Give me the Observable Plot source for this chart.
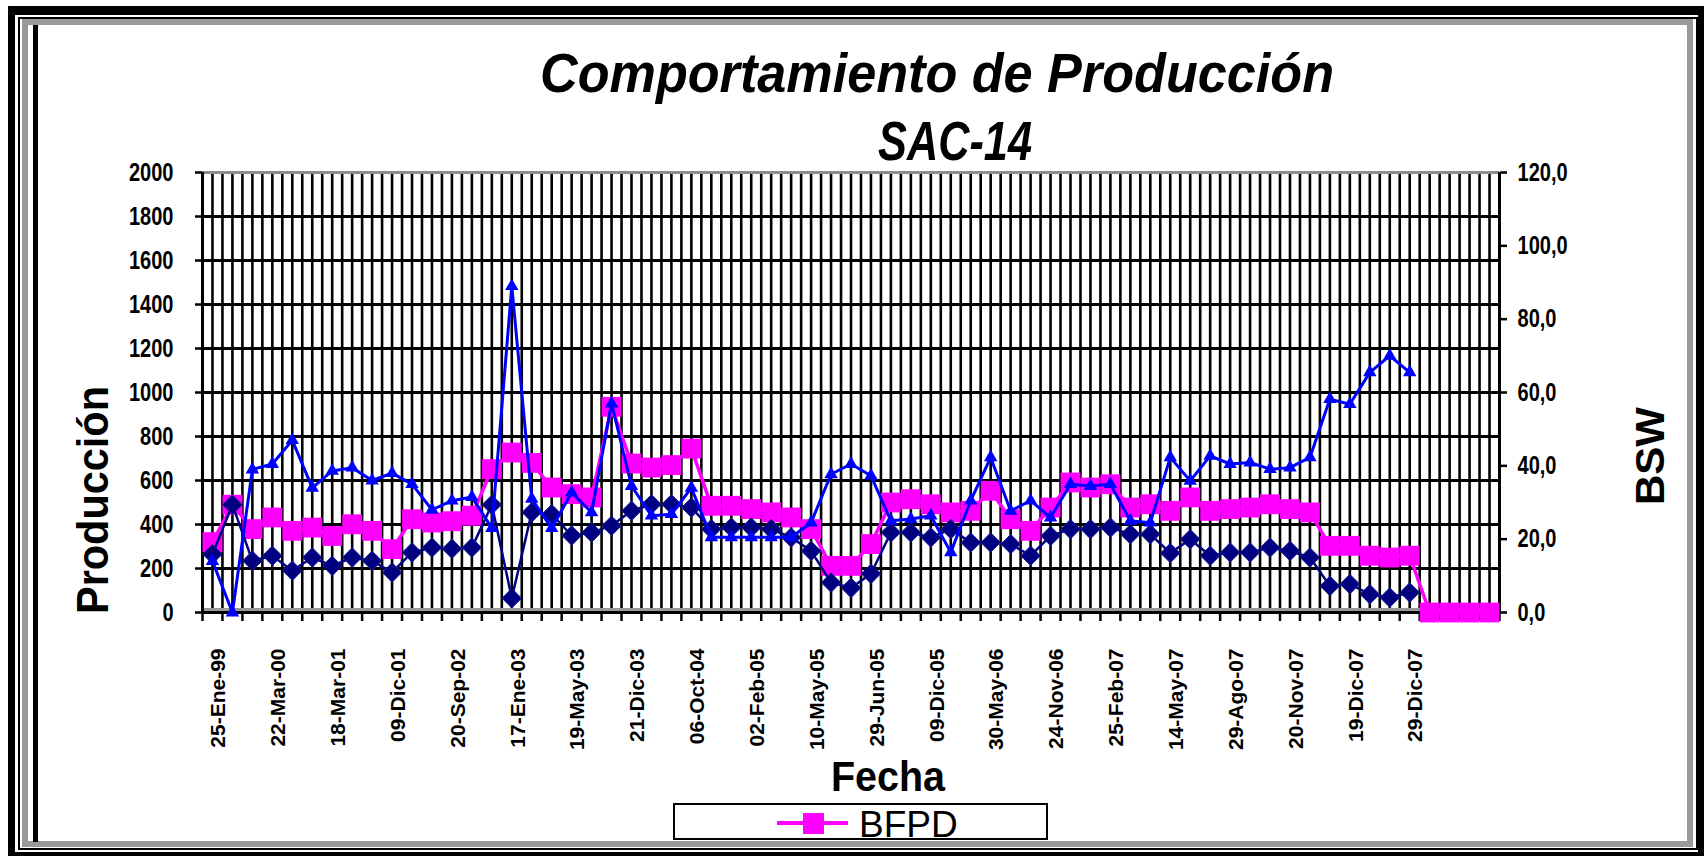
<!DOCTYPE html>
<html><head><meta charset="utf-8">
<script src="https://cdn.jsdelivr.net/npm/d3@7"></script>
<script src="https://cdn.jsdelivr.net/npm/@observablehq/plot@0.6"></script>
<style>
html,body{margin:0;padding:0;background:#fff;}
#page{position:relative;width:1704px;height:856px;overflow:hidden;background:#fff;font-family:"Liberation Sans",Arial,sans-serif;}
.abs{position:absolute;box-sizing:border-box;}
</style></head><body>
<div id="page">
  <div class="abs" style="left:8px;top:6px;width:1696px;height:850px;border-style:solid;border-color:#000;border-width:9px 6px 4px 7px;"></div>
  <div class="abs" style="left:18px;top:17px;width:1680px;height:833px;border:2px solid #000;"></div>
  <div class="abs" style="left:22px;top:19px;width:1671px;height:828px;border:6px solid #999;"></div>
  <div class="abs" style="left:33px;top:25px;width:5px;height:817px;background:#000;"></div>
  <div id="chart" class="abs" style="left:0;top:0;"></div>
  <svg id="overlay" class="abs" style="left:0;top:0;" width="1704" height="856" font-family="Liberation Sans, Arial, sans-serif">
    <text x="937" y="92" text-anchor="middle" font-size="56" font-weight="bold" font-style="italic" textLength="794" lengthAdjust="spacingAndGlyphs">Comportamiento de Producción</text>
    <text x="955" y="160" text-anchor="middle" font-size="56" font-weight="bold" font-style="italic" textLength="154" lengthAdjust="spacingAndGlyphs">SAC-14</text>
    <text transform="translate(108,500) rotate(-90)" text-anchor="middle" font-size="45" font-weight="bold" textLength="228" lengthAdjust="spacingAndGlyphs">Producción</text>
    <text transform="translate(1664,456) rotate(-90)" text-anchor="middle" font-size="40" font-weight="bold" textLength="98" lengthAdjust="spacingAndGlyphs">BSW</text>
    <text x="888" y="791" text-anchor="middle" font-size="42" font-weight="bold" textLength="114" lengthAdjust="spacingAndGlyphs">Fecha</text>
    <rect x="674" y="804" width="373" height="35" fill="#fff" stroke="#000" stroke-width="2"/>
    <line x1="777" x2="848" y1="823" y2="823" stroke="#ff00ff" stroke-width="4"/>
    <rect x="803" y="813" width="21" height="21" fill="#ff00ff"/>
    <text x="859" y="837" font-size="37">BFPD</text>
  </svg>
</div>
<script>
// ---- data ----
const fechaLabels = ["25-Ene-99","22-Mar-00","18-Mar-01","09-Dic-01","20-Sep-02","17-Ene-03","19-May-03","21-Dic-03","06-Oct-04","02-Feb-05","10-May-05","29-Jun-05","09-Dic-05","30-May-06","24-Nov-06","25-Feb-07","14-May-07","29-Ago-07","20-Nov-07","19-Dic-07","29-Dic-07"];
const labelEvery = 3;
const bfpd = [320,490,379,432,371,386,348,401,371,288,424,409,415,440,652,727,680,568,538,523,935,677,659,670,745,485,485,470,455,432,379,212,212,311,500,515,492,455,462,553,424,371,477,591,568,583,477,492,462,523,462,470,477,492,470,455,303,303,258,250,258,0,0,0,0];
const bopd = [265,490,235,258,190,250,212,250,235,182,273,295,290,295,490,65,455,447,350,364,394,462,492,492,477,379,386,386,379,341,280,136,112,176,364,364,341,379,318,318,311,258,348,379,379,386,356,356,270,333,258,273,273,295,280,250,121,129,83,68,91];
const bsw = [14,0,39,40.5,47,34,38.6,39.5,36,38,35,28,30.5,31.5,23,89,31,23,32.7,27.3,57,34.5,26.4,26.8,34,20.5,20.5,20.5,20.5,20.5,24.5,37.7,40.5,37.3,25,25.5,26.4,16.4,30.5,42.3,27.7,30.5,25.9,35,34.5,35,25,24.5,42.3,35.9,42.7,40.5,40.9,39.1,39.5,42.3,58.2,56.8,65.5,70,65.5];
const leftTicks = [0,200,400,600,800,1000,1200,1400,1600,1800,2000];
const rightTicks = [0,20,40,60,80,100,120];
const leftMax = 2000, rightMax = 120;

// ---- chart ----
const nCat = bfpd.length;
const k = leftMax / rightMax;
const rows = arr => arr.map((v, i) => ({i, v}));
const labelPos = fechaLabels.map((_, j) => j * labelEvery + 0.5);
const FONT = "Liberation Sans, Arial, sans-serif";

const chart = Plot.plot({
  width: 1704, height: 760,
  marginLeft: 202, marginRight: 205, marginTop: 172, marginBottom: 148,
  x: {domain: [0, nCat], axis: null, label: null},
  y: {domain: [0, leftMax], axis: null, label: null},
  style: {fontFamily: FONT, background: "transparent", overflow: "visible", color: "#000"},
  marks: [
    Plot.ruleX(d3.range(0.5, nCat, 0.5), {stroke: "#000", strokeWidth: 2.6}),
    Plot.ruleY(leftTicks.filter(t => t > 0 && t < leftMax), {stroke: "#000", strokeWidth: 3}),
    Plot.ruleY([leftMax], {stroke: "#8c8c8c", strokeWidth: 3}),
    Plot.ruleY([0], {stroke: "#999", strokeWidth: 3, dy: -3}),
    Plot.ruleY([0], {stroke: "#000", strokeWidth: 3}),
    Plot.ruleX([0, nCat], {stroke: "#000", strokeWidth: 3}),
    Plot.axisY(leftTicks, {anchor: "left", label: null, tickSize: 7, tickPadding: 22, strokeWidth: 2.5, fontSize: 26, fontWeight: "bold", tickFormat: d => String(d)}),
    Plot.axisY(rightTicks.map(t => t * k), {anchor: "right", label: null, tickSize: 7, tickPadding: 11, strokeWidth: 2.5, fontSize: 26, fontWeight: "bold", tickFormat: d => (d / k).toFixed(1).replace(".", ",")}),
    Plot.axisX(d3.range(0, nCat + 1), {anchor: "bottom", label: null, tickSize: 9, strokeWidth: 2.5, tickFormat: () => ""}),
    Plot.axisX(labelPos, {anchor: "bottom", label: null, tickSize: 0, tickPadding: 36, tickRotate: -90, dx: 6, fontSize: 21, fontWeight: "bold", tickFormat: d => fechaLabels[Math.round((d - 0.5) / labelEvery)]}),
    Plot.line(rows(bfpd), {x: d => d.i + 0.5, y: "v", stroke: "#ff00ff", strokeWidth: 3.5}),
    Plot.dot(rows(bfpd), {x: d => d.i + 0.5, y: "v", symbol: "square", r: 11.2, fill: "#ff00ff", stroke: "none"}),
    Plot.line(rows(bopd), {x: d => d.i + 0.5, y: "v", stroke: "#000080", strokeWidth: 2.5}),
    Plot.dot(rows(bopd), {x: d => d.i + 0.5, y: "v", symbol: "diamond2", r: 8.8, fill: "#000080", stroke: "#1a1a90", strokeWidth: 1}),
    Plot.line(rows(bsw), {x: d => d.i + 0.5, y: d => d.v * k, stroke: "#0000ff", strokeWidth: 3}),
    Plot.dot(rows(bsw), {x: d => d.i + 0.5, y: d => d.v * k, symbol: "triangle", r: 5, fill: "#0000ff", stroke: "none"})
  ]
});
document.getElementById("chart").appendChild(chart);

// condense numeric tick labels (reference font is narrow)
chart.querySelectorAll("g[aria-label='y-axis tick label'] text").forEach(t => {
  const L = t.getComputedTextLength();
  t.setAttribute("textLength", (L * 0.77).toFixed(1));
  t.setAttribute("lengthAdjust", "spacingAndGlyphs");
});
</script>
</body></html>
